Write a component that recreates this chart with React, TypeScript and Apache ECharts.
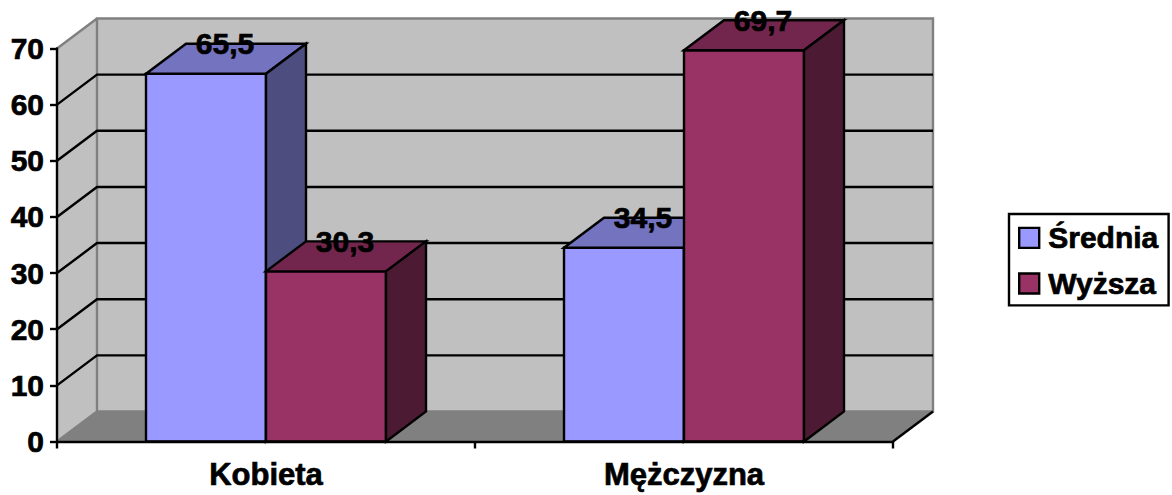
import React, { useEffect, useRef } from "react";
import * as echarts from "echarts";

const categories = ["Kobieta", "Mężczyzna"];
const seriesNames = ["Średnia", "Wyższa"];
const sredniaValues = [65.5, 34.5];
const wyzszaValues = [30.3, 69.7];
const gridValues = [0, 10, 20, 30, 40, 50, 60, 70];

const FONT = '"Liberation Sans", Arial, sans-serif';
const DX = 40;
const DY = -30;
const BAR_RATIO = 120 / 418;
const WALL = "#C0C0C0";
const WALL_EDGE = "#808080";
const FLOOR = "#808080";
const LINE = 2.4;
const TEXT_STROKE = 0.7;

const poly = (points: number[][], fill: string, stroke: string | null, lineWidth = LINE) => ({
  type: "polygon",
  shape: { points },
  style: { fill, stroke: stroke ?? "none", lineWidth },
});
const pline = (points: number[][], stroke: string, lineWidth = LINE) => ({
  type: "polyline",
  shape: { points },
  style: { fill: "none", stroke, lineWidth },
});

const renderWall = (params: any, api: any) => {
  const value = api.value(1);
  const cs = params.coordSys;
  const left = cs.x;
  const right = cs.x + cs.width;
  const y = api.coord([0, value])[1];
  const children: any[] = [];
  if (value === 0) {
    const top = cs.y;
    children.push(
      poly([[left + DX, top + DY], [right + DX, top + DY], [right + DX, y + DY], [left + DX, y + DY]], WALL, null),
      poly([[left, top], [left + DX, top + DY], [left + DX, y + DY], [left, y]], WALL, null),
      poly([[left, y], [left + DX, y + DY], [right + DX, y + DY], [right, y]], FLOOR, null),
      pline([[left, y], [left + DX, y + DY], [left + DX, top + DY], [right + DX, top + DY], [right + DX, y + DY], [left + DX, y + DY]], WALL_EDGE),
      pline([[left, top], [left + DX, top + DY]], WALL_EDGE),
      pline([[right, y], [right + DX, y + DY]], "#000")
    );
  } else if (value < gridValues[gridValues.length - 1]) {
    children.push(pline([[left, y], [left + DX, y + DY], [right + DX, y + DY]], "#000"));
  }
  return { type: "group", children };
};

const makeBarRenderer = (seriesIndex: number, front: string, topFace: string, sideFace: string) => (params: any, api: any) => {
  const cat = api.value(0);
  const value = api.value(1);
  const center = api.coord([cat, 0]);
  const top = api.coord([cat, value]);
  const band = api.size([1, 0])[0];
  const w = band * BAR_RATIO;
  const x0 = seriesIndex === 0 ? center[0] - w : center[0];
  const x1 = x0 + w;
  const yT = top[1];
  const yB = center[1];
  return {
    type: "group",
    children: [
      poly([[x0, yB], [x0, yT], [x1, yT], [x1, yB]], front, "#000"),
      poly([[x0, yT], [x0 + DX, yT + DY], [x1 + DX, yT + DY], [x1, yT]], topFace, "#000"),
      poly([[x1, yT], [x1 + DX, yT + DY], [x1 + DX, yB + DY], [x1, yB]], sideFace, "#000"),
      {
        type: "text",
        z2: 100,
        style: {
          text: String(value).replace(".", ","),
          x: (x0 + x1 + DX) / 2 - 1,
          y: yT + DY,
          align: "center",
          verticalAlign: "middle",
          fill: "#000",
          stroke: "#000",
          lineWidth: TEXT_STROKE,
          font: `bold 30px ${FONT}`,
        },
      },
    ],
  };
};

export default function App() {
  const ref = useRef<HTMLDivElement>(null);
  useEffect(() => {
    document.body.style.margin = "0";
    const chart = echarts.init(ref.current!, null, { renderer: "svg" });
    const labelStyle = {
      color: "#000",
      fontFamily: FONT,
      fontWeight: "bold",
      fontSize: 30,
      textBorderColor: "#000",
      textBorderWidth: TEXT_STROKE,
    };
    chart.setOption({
      animation: false,
      backgroundColor: "#fff",
      grid: { left: 57, right: 279, top: 48.5, bottom: 53.5 },
      xAxis: {
        type: "category",
        data: categories,
        z: 10,
        axisLine: { lineStyle: { color: "#000", width: LINE } },
        axisTick: { show: true, length: 7, lineStyle: { color: "#000", width: LINE } },
        axisLabel: { ...labelStyle, fontSize: 31, margin: 17 },
        splitLine: { show: false },
      },
      yAxis: {
        type: "value",
        min: 0,
        max: 70,
        interval: 10,
        z: 10,
        axisLine: { show: true, lineStyle: { color: "#000", width: LINE } },
        axisTick: { show: true, length: 7, lineStyle: { color: "#000", width: LINE } },
        axisLabel: { ...labelStyle, margin: 13 },
        splitLine: { show: false },
      },
      legend: {
        show: true,
        left: 1009,
        top: 214,
        orient: "vertical",
        data: seriesNames.map((name) => ({ name, icon: "rect" })),
        itemWidth: 20,
        itemHeight: 20,
        itemGap: 15,
        padding: [8.5, 10, 6.5, 9],
        backgroundColor: "#fff",
        borderColor: "#000",
        borderWidth: LINE,
        selectedMode: false,
        itemStyle: { borderColor: "#000", borderWidth: LINE },
        textStyle: { ...labelStyle, lineHeight: 20, padding: [0, 0, 0, 4] },
      },
      series: [
        {
          type: "custom",
          name: "walls",
          z: 1,
          silent: true,
          clip: false,
          encode: { x: 0, y: 1 },
          data: gridValues.map((v) => [0, v]),
          renderItem: renderWall,
        },
        {
          type: "custom",
          name: seriesNames[0],
          z: 2,
          clip: false,
          itemStyle: { color: "#9999FF" },
          encode: { x: 0, y: 1 },
          data: sredniaValues.map((v, i) => [i, v]),
          renderItem: makeBarRenderer(0, "#9999FF", "#7373BF", "#4D4D80"),
        },
        {
          type: "custom",
          name: seriesNames[1],
          z: 3,
          clip: false,
          itemStyle: { color: "#993366" },
          encode: { x: 0, y: 1 },
          data: wyzszaValues.map((v, i) => [i, v]),
          renderItem: makeBarRenderer(1, "#993366", "#73264D", "#4D1A33"),
        },
      ],
    });
    return () => chart.dispose();
  }, []);
  return <div ref={ref} style={{ width: 1172, height: 495 }} />;
}
